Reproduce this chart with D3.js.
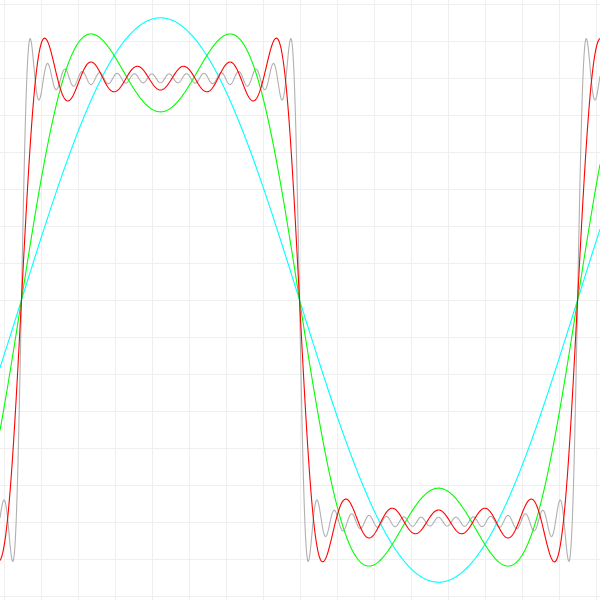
<!DOCTYPE html>
<html>
<head>
<meta charset="utf-8">
<script src="https://cdn.jsdelivr.net/npm/d3@7"></script>
<style>
  html, body { margin: 0; padding: 0; background: #ffffff; }
  svg { display: block; }
</style>
</head>
<body>
<div id="chart"></div>
<script>
// ---- data ----
// Partial Fourier sums of a square wave: number of odd harmonics used by each curve
const seriesNames = ["1 term", "2 terms", "6 terms", "16 terms"];
const seriesTerms = [1, 2, 6, 16];
const seriesColors = ["#00ffff", "#00ff00", "#ff0000", "#b0b0b0"];
const drawOrder = [3, 0, 1, 2];
// wave period and zero-crossing position, in grid units (one grid cell = 1/6)
const wavePeriod = 2.505;
const waveStart = 0.0800;
// axis extents (grid units) and grid step
const xDomain = [-0.0167, 2.686];
const yDomain = [-1.3535, 1.3535];
const gridStep = 1 / 6;

// ---- chart ----
const W = 600, H = 600;
const svg = d3.select("#chart").append("svg").attr("width", W).attr("height", H);

const x = d3.scaleLinear().domain(xDomain).range([0, W]);
const y = d3.scaleLinear().domain(yDomain).range([H, 0]);

const xTicks = d3.range(Math.ceil(xDomain[0] / gridStep), Math.floor(xDomain[1] / gridStep) + 1).map(k => k * gridStep);
const yTicks = d3.range(Math.ceil(yDomain[0] / gridStep), Math.floor(yDomain[1] / gridStep) + 1).map(k => k * gridStep);

const grid = svg.append("g").attr("stroke", "#efefef").attr("stroke-width", 1);
grid.selectAll("line.v").data(xTicks).join("line")
  .attr("class", "v")
  .attr("x1", d => Math.round(x(d)) + 0.5).attr("x2", d => Math.round(x(d)) + 0.5)
  .attr("y1", 0).attr("y2", H);
grid.selectAll("line.h").data(yTicks).join("line")
  .attr("class", "h")
  .attr("y1", d => Math.round(y(d)) + 0.5).attr("y2", d => Math.round(y(d)) + 0.5)
  .attr("x1", 0).attr("x2", W);

function partialSum(xv, n) {
  const t = 2 * Math.PI * (xv - waveStart) / wavePeriod;
  let s = 0;
  for (let i = 0; i < n; i++) {
    const k = 2 * i + 1;
    s += Math.sin(k * t) / k;
  }
  return 4 / Math.PI * s;
}

const samples = d3.range(0, 1201).map(i => xDomain[0] + (xDomain[1] - xDomain[0]) * i / 1200);
const line = d3.line().x(d => x(d[0])).y(d => y(d[1]));

drawOrder.forEach(si => {
  const pts = samples.map(xv => [xv, partialSum(xv, seriesTerms[si])]);
  svg.append("path")
    .datum(pts)
    .attr("fill", "none")
    .attr("stroke", seriesColors[si])
    .attr("stroke-width", 1.1)
    .attr("d", line)
    .append("title").text(seriesNames[si]);
});
</script>
</body>
</html>
